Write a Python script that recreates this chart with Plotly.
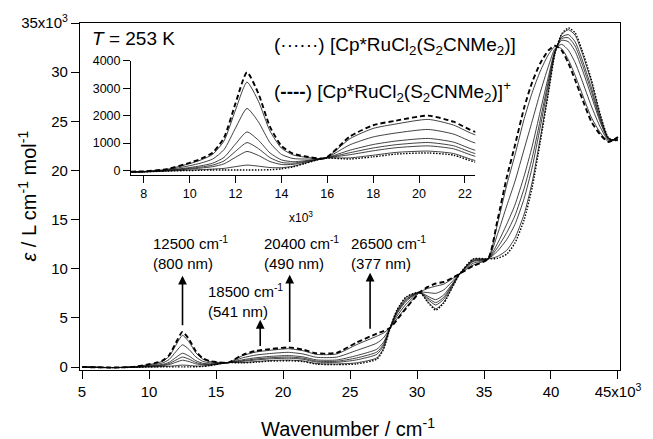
import plotly.graph_objects as go

# ---------------- data ----------------
wavenumber = [5000, 7000, 8000, 9000, 10000, 10500, 11000, 11500, 12000, 12500,
              13000, 13500, 14000, 14500, 15000, 15900, 17000, 18000, 19000, 20400,
              21500, 22500, 24000, 25500, 27000, 27500, 28000, 28500, 29200, 30200,
              30800, 31400, 32000, 32600, 33200, 34200, 35300, 36000, 36700, 37300,
              38000, 38600, 39200, 39800, 40300, 40800, 41300, 41800, 42300, 43000,
              43700, 44300, 45000]

# [Cp*RuCl2(S2CNMe2)]  (dotted)
eps_neutral = [0, -60, -50, -20, 0, 10, 20, 20, 20, 20,
               20, 30, 60, 130, 250, 450, 420, 500, 600, 640,
               560, 300, 250, 320, 800, 1800, 4000, 5800, 7150, 7600,
               6600, 5800, 6500, 8000, 9500, 11000, 11000, 11050, 11500, 12600,
               15000, 18300, 22900, 27800, 31900, 33900, 34500, 34000, 32300, 29300,
               25600, 23300, 23000]

# [Cp*RuCl2(S2CNMe2)]+  (dashed)
eps_cation = [0, -40, -30, 50, 280, 430, 650, 1200, 2450, 3580,
              2800, 1600, 900, 620, 520, 450, 1250, 1650, 1820, 2000,
              1780, 1400, 1450, 2500, 3400, 3650, 4000, 4800, 6000, 7600,
              8150, 8500, 8650, 9050, 9500, 10300, 11000, 14900, 19300, 22500,
              26400, 29000, 30900, 32200, 32700, 32200, 30900, 29200, 27400, 25000,
              23600, 22900, 23400]

# intermediate spectra (solid)
eps_step1 = [0, -59, -49, -17, 14, 31, 52, 79, 142, 198,
             159, 109, 102, 155, 264, 450, 462, 558, 661, 708,
             621, 355, 310, 429, 930, 1893, 4000, 5750, 7093, 7600,
             6678, 5935, 6608, 8053, 9500, 10965, 11000, 11243, 11890, 13095,
             15570, 18835, 23300, 28020, 31940, 33815, 34320, 33760, 32055, 29085,
             25500, 23280, 23020]
eps_step2 = [0, -56, -46, -7, 53, 90, 140, 244, 482, 696,
             548, 328, 220, 223, 301, 450, 578, 719, 832, 898,
             792, 509, 478, 734, 1294, 2152, 4000, 5610, 6932, 7600,
             6895, 6313, 6909, 8200, 9500, 10867, 11000, 11782, 12982, 14481,
             17166, 20333, 24420, 28636, 32052, 33577, 33816, 33088, 31369, 28483,
             25220, 23224, 23076]
eps_step3 = [0, -54, -44, 0, 78, 128, 196, 350, 700, 1017,
             798, 470, 295, 267, 326, 450, 652, 822, 942, 1021,
             902, 608, 586, 930, 1528, 2318, 4000, 5520, 6828, 7600,
             7034, 6556, 7102, 8294, 9500, 10804, 11000, 12128, 13684, 15372,
             18192, 21296, 25140, 29032, 32124, 33424, 33492, 32656, 30928, 28096,
             25040, 23188, 23112]
eps_step4 = [0, -52, -42, 7, 109, 174, 266, 480, 968, 1408,
             1104, 642, 388, 321, 355, 450, 744, 949, 1076, 1170,
             1036, 729, 718, 1170, 1814, 2522, 4000, 5410, 6702, 7600,
             7205, 6853, 7339, 8410, 9500, 10727, 11000, 12552, 14542, 16461,
             19446, 22473, 26020, 29516, 32212, 33237, 33096, 32128, 30389, 27623,
             24820, 23144, 23156]
eps_step5 = [0, -47, -37, 24, 176, 275, 417, 763, 1551, 2263,
             1771, 1019, 589, 439, 420, 450, 943, 1225, 1369, 1497,
             1329, 993, 1006, 1693, 2438, 2966, 4000, 5170, 6426, 7600,
             7577, 7501, 7855, 8662, 9500, 10559, 11000, 13476, 16414, 18837,
             22182, 25041, 27940, 30572, 32404, 32829, 32232, 30976, 29213, 26591,
             24340, 23048, 23252]
eps_step6 = [0, -42, -32, 43, 252, 388, 587, 1082, 2207, 3224,
             2522, 1443, 816, 571, 493, 450, 1167, 1535, 1698, 1864,
             1658, 1290, 1330, 2282, 3140, 3465, 4000, 4900, 6115, 7600,
             7995, 8230, 8435, 8945, 9500, 10370, 11000, 14515, 18520, 21510,
             25260, 27930, 30100, 31760, 32620, 32370, 31260, 29680, 27890, 25430,
             23800, 22940, 23360]

# main axis ticks
main_xticks = [5000, 10000, 15000, 20000, 25000, 30000, 35000, 40000, 45000]
main_xticklabels = ["5", "10", "15", "20", "25", "30", "35", "40", "45x10<sup>3</sup>"]
main_yticks = [0, 5000, 10000, 15000, 20000, 25000, 30000, 35000]
main_yticklabels = ["0", "5", "10", "15", "20", "25", "30", "35x10<sup>3</sup>"]

# inset ticks
inset_xticks = [8000, 10000, 12000, 14000, 16000, 18000, 20000, 22000]
inset_xticklabels = ["8", "10", "12", "14", "16", "18", "20", "22"]
inset_yticks = [0, 1000, 2000, 3000, 4000]

# arrow annotations
arrow_x = [12500, 18300, 20500, 26500]
arrow_tail = [4100, 2000, 2400, 3750]
arrow_head = [9300, 4800, 9400, 9600]
arrow_labels = ["12500 cm<sup>-1</sup><br>(800 nm)",
                "18500 cm<sup>-1</sup><br>(541 nm)",
                "20400 cm<sup>-1</sup><br>(490 nm)",
                "26500 cm<sup>-1</sup><br>(377 nm)"]
label_x = [10140, 14250, 18430, 24900]
label_y = [11670, 6800, 11670, 11670]

# ---------------- figure ----------------
FONT = "Liberation Sans, Arial, Helvetica, sans-serif"
fig = go.Figure()

solid_sets = [eps_step1, eps_step2, eps_step3, eps_step4, eps_step5, eps_step6]

for xa, ya in (("x", "y"), ("x2", "y2")):
    for s in solid_sets:
        fig.add_trace(go.Scatter(x=wavenumber, y=s, mode="lines", xaxis=xa, yaxis=ya,
                                 line=dict(color="#111111", width=0.8, shape="spline", smoothing=0.6),
                                 showlegend=False, hoverinfo="skip"))
    fig.add_trace(go.Scatter(x=wavenumber, y=eps_neutral, mode="lines", xaxis=xa, yaxis=ya,
                             line=dict(color="black", width=1.4, dash="1.5px,1.5px",
                                       shape="spline", smoothing=0.6),
                             showlegend=False, hoverinfo="skip"))
    fig.add_trace(go.Scatter(x=wavenumber, y=eps_cation, mode="lines", xaxis=xa, yaxis=ya,
                             line=dict(color="black", width=1.9, dash="5px,3px",
                                       shape="spline", smoothing=0.6),
                             showlegend=False, hoverinfo="skip"))

annotations = []
for xv, yt, yh in zip(arrow_x, arrow_tail, arrow_head):
    annotations.append(dict(x=xv, y=yh, ax=xv, ay=yt, xref="x", yref="y", axref="x", ayref="y",
                            text="", showarrow=True, arrowhead=2, arrowsize=1.1, arrowwidth=1.6,
                            arrowcolor="black"))
for xv, yv, t in zip(label_x, label_y, arrow_labels):
    annotations.append(dict(x=xv, y=yv, xref="x", yref="y", text=t, showarrow=False,
                            xanchor="left", yanchor="middle", align="left",
                            font=dict(family=FONT, size=15, color="black")))

annotations += [
    dict(x=0.018, y=0.954, xref="paper", yref="paper", text="<i>T</i> = 253 K",
         showarrow=False, xanchor="left", yanchor="middle",
         font=dict(family=FONT, size=19, color="black")),
    dict(x=0.355, y=0.934, xref="paper", yref="paper",
         text="(······) [Cp*RuCl<sub>2</sub>(S<sub>2</sub>CNMe<sub>2</sub>)]",
         showarrow=False, xanchor="left", yanchor="middle",
         font=dict(family=FONT, size=19, color="black")),
    dict(x=0.355, y=0.802, xref="paper", yref="paper",
         text="(<b>----</b>) [Cp*RuCl<sub>2</sub>(S<sub>2</sub>CNMe<sub>2</sub>)]<sup>+</sup>",
         showarrow=False, xanchor="left", yanchor="middle",
         font=dict(family=FONT, size=19, color="black")),
    dict(x=0.41, y=0.44, xref="paper", yref="paper", text="x10<sup>3</sup>",
         showarrow=False, xanchor="center", yanchor="middle",
         font=dict(family=FONT, size=12, color="black")),
    dict(x=0.497, y=-0.167, xref="paper", yref="paper", text="Wavenumber / cm<sup>-1</sup>",
         showarrow=False, xanchor="center", yanchor="middle",
         font=dict(family=FONT, size=20, color="black")),
    dict(x=-0.098, y=0.5, xref="paper", yref="paper",
         text="<i>ε</i> / L cm<sup>-1</sup> mol<sup>-1</sup>", textangle=-90,
         showarrow=False, xanchor="center", yanchor="middle",
         font=dict(family=FONT, size=20, color="black")),
]

fig.update_layout(
    width=653, height=439,
    margin=dict(l=80, r=24, t=22, b=69),
    paper_bgcolor="white", plot_bgcolor="white",
    font=dict(family=FONT, color="black"),
    showlegend=False,
    annotations=annotations,
    xaxis=dict(range=[4850, 45150], tickvals=main_xticks, ticktext=main_xticklabels,
               showline=True, linecolor="black", linewidth=1.2, mirror=True,
               ticks="outside", ticklen=8, tickwidth=1.2, tickcolor="black",
               showgrid=False, zeroline=False, tickfont=dict(size=15, family=FONT)),
    yaxis=dict(range=[-300, 35000], tickvals=main_yticks, ticktext=main_yticklabels,
               showline=True, linecolor="black", linewidth=1.2, mirror=True,
               ticks="outside", ticklen=8, tickwidth=1.2, tickcolor="black",
               showgrid=False, zeroline=False, tickfont=dict(size=15, family=FONT)),
    xaxis2=dict(domain=[0.0947, 0.732], anchor="y2", range=[7450, 22450],
                tickvals=inset_xticks, ticktext=inset_xticklabels,
                showline=True, linecolor="black", linewidth=1.2,
                ticks="outside", ticklen=7, tickwidth=1.2, tickcolor="black",
                showgrid=False, zeroline=False, tickfont=dict(size=12.5, family=FONT)),
    yaxis2=dict(domain=[0.563, 0.891], anchor="x2", range=[-150, 4000],
                tickvals=inset_yticks,
                showline=True, linecolor="black", linewidth=1.2,
                ticks="outside", ticklen=7, tickwidth=1.2, tickcolor="black",
                showgrid=False, zeroline=False, tickfont=dict(size=12.5, family=FONT)),
)

fig.write_html("out.html", config={"displayModeBar": False},
               post_script="document.body.style.margin='0';document.body.style.overflow='hidden';")
